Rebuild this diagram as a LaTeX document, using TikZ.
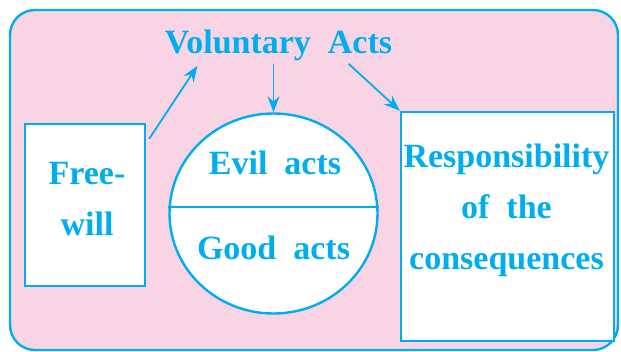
\documentclass[tikz,border=0pt]{standalone}
\usepackage{fontspec}
\setmainfont{Liberation Serif}[WordSpace=2]
\usetikzlibrary{arrows.meta,shapes.geometric}
\definecolor{skyblue}{HTML}{00AEEF}
\definecolor{rosepink}{HTML}{F9D4E5}

\begin{document}
\begin{tikzpicture}[x=0.5pt, y=-0.5pt,
  txt/.style={text=skyblue, font=\bfseries\fontsize{17}{25.5}\selectfont, inner sep=0pt, align=center},
  box/.style={draw=skyblue, line width=1.2pt, fill=white, inner sep=0pt},
  arr/.style={draw=skyblue, line width=0.9pt, -{Stealth[length=8pt,width=6pt]}}]

\useasboundingbox (0,0) rectangle (621,352);
\draw[draw=skyblue, fill=rosepink, line width=1.2pt, rounded corners=12.5pt] (10,10) rectangle (618,350);

\node[txt, anchor=base] (vol) at (278.5,54) {Voluntary Acts};

\node[box, minimum width=60pt, minimum height=81pt] (fw) at (85,205) {};
\node[txt, anchor=base] (fwtxt) at (87,236) {Free-\\will};

\node[box, ellipse, minimum width=104pt, minimum height=100pt] (acts) at (273.5,213.5) {};
\draw[draw=skyblue, line width=1.2pt] ([shift={(0,-6.5)}]acts.west) -- ([shift={(0,-6.5)}]acts.east);
\node[txt, anchor=base] (evil) at (275,175) {Evil acts};
\node[txt, anchor=base] (good) at (273.5,260) {Good acts};

\node[box, minimum width=106.5pt, minimum height=114.5pt] (resp) at (507.5,226.5) {};
\node[txt, anchor=base] (resptxt) at (506.5,270) {Responsibility\\of the\\consequences};

% arrows
\draw[arr] ([shift={(3,16)}]fw.north east) -- ([shift={(33,4)}]vol.south west);
\draw[arr] ([shift={(-5,2)}]vol.south) -- (acts.north);
\draw[arr] ([shift={(-44,2)}]vol.south east) -- (resp.north west);

\end{tikzpicture}
\end{document}
